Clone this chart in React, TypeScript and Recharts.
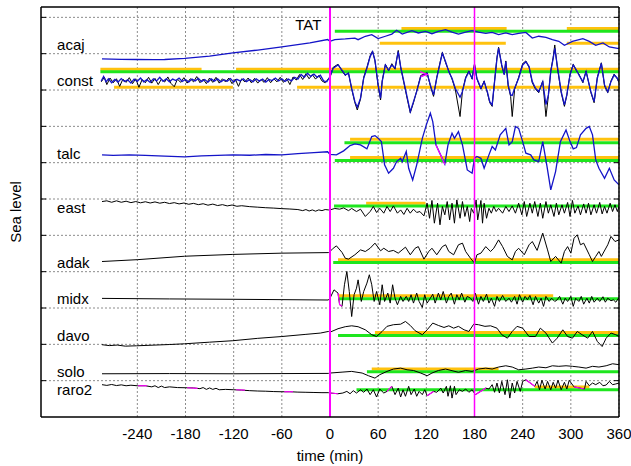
import { LineChart, Line, XAxis, YAxis, CartesianGrid, ReferenceLine, ReferenceDot } from "recharts";

type Series = [number, number][];
type Limit = [number, number, number]; // from (min), to (min), level

const timeTicks = [-240, -180, -120, -60, 0, 60, 120, 180, 240, 300, 360];
const levelTicks = [1, 2, 3, 4, 5, 6, 7, 8, 9, 10, 11, 12, 13, 14, 15, 16, 17, 18, 19, 20, 21, 22];
const stationNames = ["acaj", "const", "talc", "east", "adak", "midx", "davo", "solo", "raro2"];
const stationLevels = [20.5, 18.5, 14.5, 11.5, 8.5, 6.5, 4.5, 2.5, 1.5];
const arrivalMarks = [0, 180];

const acaj: Series = [
  [-284, 19.71], [-260, 19.69], [-241, 19.68], [-220, 19.67], [-206, 19.68], [-181, 19.74], [-150, 19.87],
  [-121, 20.04], [-90, 20.2], [-60, 20.37], [-25, 20.59], [-3, 20.78],
  [0, 20.68], [6, 20.77], [19, 20.81], [31, 20.86], [35, 20.77], [44, 20.96], [52, 21.05], [60, 20.83],
  [69, 20.96], [77, 21.08], [83, 21.29], [90, 21.08], [102, 21.27], [110, 21.14], [119, 21.23], [127, 21.1],
  [135, 21.23], [144, 21.32], [152, 21.19], [160, 21.08], [169, 21.19], [177, 21.27], [185, 21.19],
  [194, 21.12], [202, 21.17], [210, 21.05], [219, 21.14], [227, 21.05], [235, 21.12], [244, 21.17],
  [252, 20.86], [260, 20.96], [269, 20.9], [277, 20.77], [285, 20.68], [292, 20.46], [302, 20.68],
  [315, 20.83], [323, 20.68], [331, 20.46], [340, 20.59], [348, 20.37], [360, 20.28],
];

const constBlack: Series = [
  [-285, 18.45], [-281, 18.7], [-278, 18.3], [-274, 18.66], [-270, 18.4], [-266, 18.62], [-262, 18.2],
  [-258, 18.6], [-254, 18.42], [-250, 18.68], [-246, 18.35], [-242, 18.62], [-238, 18.15], [-234, 18.58],
  [-230, 18.4], [-226, 18.7], [-222, 18.38], [-218, 18.64], [-214, 18.3], [-210, 18.6], [-206, 18.44],
  [-202, 18.72], [-198, 18.36], [-194, 18.18], [-190, 18.6], [-186, 18.42], [-182, 18.68], [-178, 18.38],
  [-174, 18.62], [-170, 18.45], [-166, 18.74], [-162, 18.4], [-158, 18.6], [-154, 18.35], [-150, 18.66],
  [-146, 18.42], [-142, 18.7], [-138, 18.38], [-134, 18.62], [-130, 18.44], [-126, 18.66], [-122, 18.35],
  [-118, 18.6], [-114, 18.2], [-110, 18.62], [-106, 18.44], [-102, 18.66], [-98, 18.4], [-94, 18.64],
  [-90, 18.38], [-86, 18.58], [-82, 18.42], [-78, 18.68], [-74, 18.4], [-70, 18.62], [-66, 18.45],
  [-62, 18.7], [-58, 18.42], [-54, 18.64], [-50, 18.3], [-46, 18.72], [-42, 18.55], [-38, 18.85],
  [-34, 18.58], [-30, 18.9], [-26, 18.62], [-22, 18.85], [-18, 18.6], [-14, 18.8], [-10, 18.5], [-6, 18.4],
  [-2, 18.62],
  [0, 18.7], [4, 19.25], [10, 19.42], [15, 19.05], [19, 18.8], [23, 18.95], [27, 18.05], [31, 17.3],
  [34, 16.9], [38, 17.5], [42, 18.7], [46, 19.25], [50, 19.88], [53, 20.15], [56, 19.6], [60, 18.22],
  [63, 17.45], [65, 18.5], [69, 19.42], [73, 19.05], [77, 19.45], [81, 19.15], [85, 20.18], [88, 19.25],
  [92, 18.4], [96, 17.55], [100, 16.75], [104, 17.3], [108, 17.95], [113, 18.8], [121, 18.95], [125, 18.22],
  [129, 17.65], [133, 18.7], [138, 19.7], [140, 20.08], [144, 19.5], [148, 19.05], [152, 18.6], [156, 18.05],
  [162, 16.54], [165, 17.95], [169, 18.7], [173, 19.05], [177, 18.6], [180, 19.45], [183, 18.6], [188, 18.05],
  [192, 18.5], [196, 17.85], [199, 17.3], [202, 17.1], [205, 18.5], [208, 19.8], [210, 20.35], [214, 19.3],
  [217, 18.88], [219, 19.6], [222, 18.2], [225, 17.65], [227, 16.54], [230, 18.05], [235, 18.7], [240, 19.45],
  [244, 19.6], [248, 19.25], [252, 18.4], [256, 18.05], [260, 17.85], [265, 18.5], [269, 16.54], [272, 17.65],
  [275, 19.05], [278, 19.8], [280, 20.48], [283, 19.3], [288, 17.85], [292, 17.1], [295, 17.7], [299, 18.88],
  [303, 19.42], [307, 19.05], [310, 18.88], [315, 18.4], [319, 19.05], [325, 17.85], [329, 17.3], [333, 18.7],
  [338, 19.5], [342, 18.22], [346, 17.85], [350, 18.5], [354, 18.88], [358, 18.6], [360, 18.4],
];

const constBlue: Series = [
  [-285, 18.5], [-282, 18.75], [-279, 18.45], [-276, 18.62], [-272, 18.4], [-268, 18.58], [-264, 18.44],
  [-260, 18.63], [-256, 18.47], [-252, 18.56], [-248, 18.38], [-244, 18.6], [-240, 18.48], [-236, 18.66],
  [-232, 18.45], [-228, 18.57], [-224, 18.42], [-220, 18.62], [-216, 18.5], [-212, 18.7], [-208, 18.48],
  [-204, 18.62], [-200, 18.45], [-196, 18.6], [-192, 18.52], [-188, 18.66], [-184, 18.47], [-180, 18.58],
  [-176, 18.44], [-172, 18.6], [-168, 18.5], [-164, 18.64], [-160, 18.46], [-156, 18.58], [-152, 18.43],
  [-148, 18.61], [-144, 18.49], [-140, 18.62], [-136, 18.45], [-132, 18.57], [-128, 18.48], [-124, 18.63],
  [-120, 18.44], [-116, 18.59], [-112, 18.5], [-108, 18.62], [-104, 18.46], [-100, 18.58], [-96, 18.45],
  [-92, 18.62], [-88, 18.49], [-84, 18.6], [-80, 18.44], [-76, 18.58], [-72, 18.52], [-68, 18.66],
  [-64, 18.5], [-60, 18.62], [-56, 18.47], [-52, 18.6], [-48, 18.5], [-44, 18.7], [-40, 18.6], [-36, 18.86],
  [-32, 18.7], [-28, 18.92], [-24, 18.75], [-20, 18.88], [-16, 18.7], [-12, 18.82], [-8, 18.5], [-4, 18.45],
  [0, 18.74], [4, 19.2], [10, 19.38], [15, 19.1], [19, 18.83], [23, 18.92], [27, 18.1], [31, 17.36],
  [34, 17.05], [38, 17.55], [42, 18.65], [46, 19.2], [50, 19.84], [53, 20.11], [56, 19.65], [60, 18.28],
  [63, 17.55], [65, 18.46], [69, 19.38], [73, 19.1], [77, 19.38], [81, 19.2], [85, 20.11], [88, 19.29],
  [92, 18.46], [96, 17.64], [100, 16.81], [104, 17.36], [108, 17.91], [113, 18.74], [121, 18.92], [125, 18.28],
  [129, 17.73], [133, 18.65], [138, 19.65], [140, 20.02], [144, 19.56], [148, 19.01], [152, 18.65], [156, 18.1],
  [162, 17.6], [165, 17.91], [169, 18.65], [173, 19.01], [177, 18.65], [180, 19.38], [183, 18.65], [188, 18.1],
  [192, 18.46], [196, 17.91], [199, 17.36], [202, 17.18], [205, 18.46], [208, 19.74], [210, 20.3], [214, 19.38],
  [217, 18.83], [219, 19.56], [222, 18.28], [225, 17.73], [227, 17.7], [230, 18.1], [235, 18.65], [240, 19.38],
  [244, 19.56], [248, 19.29], [252, 18.46], [256, 18.1], [260, 17.91], [265, 18.46], [269, 17.2], [272, 17.73],
  [275, 19.01], [278, 19.74], [280, 20.3], [283, 19.38], [288, 17.91], [292, 17.18], [295, 17.73], [299, 18.83],
  [303, 19.38], [307, 19.1], [310, 18.83], [315, 18.46], [319, 19.01], [325, 17.91], [329, 17.36], [333, 18.65],
  [338, 19.47], [342, 18.28], [346, 17.91], [350, 18.46], [354, 18.83], [358, 18.65], [360, 18.46],
];

const talc: Series = [
  [-284, 14.43], [-270, 14.4], [-250, 14.43], [-230, 14.4], [-206, 14.36], [-181, 14.32], [-160, 14.37],
  [-140, 14.4], [-121, 14.43], [-100, 14.41], [-80, 14.45], [-60, 14.43], [-40, 14.5], [-20, 14.55], [-3, 14.6],
  [0, 14.46], [8, 14.43], [17, 14.65], [25, 14.94], [31, 15.03], [38, 14.98], [46, 14.76], [52, 15.44],
  [56, 15.49], [60, 15.34], [64, 15.16], [68, 13.88], [73, 13.42], [79, 13.69], [83, 14.06], [88, 14.24],
  [90, 14.06], [95, 14.61], [98, 13.69], [103, 13.05], [108, 13.88], [115, 15.34], [120, 16.08], [125, 16.72],
  [128, 16.26], [132, 14.98], [143, 13.92], [147, 14.98], [152, 15.62], [155, 15.34], [160, 15.71],
  [165, 14.98], [171, 13.6], [177, 13.42], [180, 14.24], [183, 14.34], [188, 14.24], [192, 13.69],
  [198, 14.43], [202, 14.89], [206, 14.7], [212, 15.53], [219, 15.89], [223, 14.98], [227, 15.16],
  [231, 15.99], [235, 15.89], [240, 15.16], [244, 14.52], [250, 14.43], [254, 14.15], [260, 14.06],
  [265, 15.16], [270, 13.88], [275, 12.5], [281, 13.51], [287, 15.16], [294, 15.8], [299, 15.16],
  [303, 14.76], [307, 14.83], [312, 15.53], [319, 15.89], [323, 15.99], [327, 15.53], [331, 14.15],
  [335, 13.69], [342, 13.14], [348, 13.69], [354, 13.05], [360, 12.78],
];

const east: Series = [
  [-284, 11.86], [-278, 11.9], [-272, 11.82], [-266, 11.9], [-260, 11.82], [-254, 11.88], [-248, 11.8],
  [-242, 11.86], [-236, 11.79], [-230, 11.85], [-224, 11.78], [-218, 11.84], [-212, 11.77], [-206, 11.82],
  [-200, 11.75], [-194, 11.8], [-188, 11.73], [-182, 11.78], [-176, 11.71], [-170, 11.76], [-164, 11.69],
  [-158, 11.74], [-152, 11.66], [-146, 11.72], [-140, 11.64], [-134, 11.69], [-128, 11.62], [-122, 11.67],
  [-116, 11.6], [-110, 11.63], [-100, 11.58], [-90, 11.55], [-80, 11.52], [-70, 11.5], [-60, 11.47],
  [-50, 11.45], [-40, 11.42], [-34, 11.36], [-30, 11.42], [-26, 11.34], [-22, 11.4], [-18, 11.33],
  [-14, 11.4], [-10, 11.36], [-6, 11.42], [-2, 11.4],
  [0, 11.4], [6, 11.48], [12, 11.44], [17, 11.51], [23, 11.36], [27, 11.48], [33, 11.31], [38, 11.44],
  [44, 11.04], [50, 11.31], [54, 11.59], [58, 11.26], [62, 11.49], [67, 11.22], [71, 11.59], [75, 11.31],
  [79, 11.62], [84, 11.22], [88, 11.4], [92, 11.15], [96, 11.49], [100, 11.22], [104, 11.44], [108, 11.26],
  [112, 11.31], [117, 11.07], [121, 11.77], [124, 10.94], [127, 11.92], [130, 10.67], [134, 11.77],
  [137, 10.58], [140, 11.59], [143, 11.13], [146, 11.86], [149, 10.85], [152, 11.77], [155, 10.67],
  [158, 11.95], [162, 10.94], [165, 11.86], [168, 11.04], [171, 11.59], [174, 10.76], [176, 11.49],
  [179, 11.22], [182, 11.95], [184, 10.85], [188, 11.92], [190, 10.67], [192, 11.77], [195, 10.94],
  [198, 11.49], [201, 11.22], [204, 11.59], [207, 11.31], [210, 11.49], [215, 11.22], [219, 11.59],
  [223, 11.31], [227, 11.62], [231, 11.22], [235, 11.77], [239, 11.13], [242, 11.86], [245, 11.04],
  [249, 11.77], [252, 11.22], [255, 11.86], [259, 11.04], [262, 11.77], [265, 10.94], [269, 11.86],
  [272, 11.22], [275, 11.68], [279, 11.04], [282, 11.77], [285, 11.13], [289, 11.68], [292, 11.22],
  [296, 11.81], [299, 11.04], [302, 11.92], [305, 11.22], [309, 11.62], [312, 11.13], [316, 11.73],
  [319, 11.22], [322, 11.77], [325, 11.13], [329, 11.68], [332, 11.22], [336, 11.81], [339, 11.18],
  [342, 11.59], [345, 11.22], [349, 11.77], [352, 11.31], [355, 11.68], [358, 11.31], [360, 11.59],
];

const adak: Series = [
  [-284, 8.56], [-240, 8.66], [-181, 8.85], [-121, 8.95], [-60, 9.02], [-2, 9.05],
  [0, 9.11], [4, 9.29], [8, 9.42], [15, 9.06], [19, 8.74], [23, 8.69], [31, 8.93], [38, 9.2], [44, 9.11],
  [50, 9.29], [56, 9.57], [63, 9.15], [67, 9.29], [73, 9.11], [79, 9.17], [85, 9.02], [94, 9.35], [100, 8.93],
  [106, 9.29], [110, 9.38], [117, 8.69], [123, 9.11], [127, 9.29], [133, 8.93], [140, 9.38], [144, 9.48],
  [148, 9.11], [154, 8.93], [160, 9.48], [165, 9.57], [169, 9.11], [175, 8.74], [180, 8.47], [183, 8.93],
  [188, 9.02], [194, 9.38], [200, 9.11], [204, 9.29], [210, 9.75], [215, 9.38], [221, 8.84], [227, 8.65],
  [231, 9.11], [235, 9.29], [242, 8.93], [248, 9.48], [252, 9.66], [258, 9.17], [265, 10.12], [271, 9.2],
  [275, 8.56], [281, 8.84], [288, 8.47], [292, 9.11], [296, 9.38], [300, 9.02], [304, 9.84], [308, 10.03],
  [312, 9.48], [316, 9.57], [323, 8.93], [327, 8.56], [331, 8.84], [335, 9.11], [338, 8.84], [346, 9.48],
  [350, 9.94], [355, 9.66], [360, 9.75],
];

const midx: Series = [
  [-284, 6.53], [-200, 6.5], [-120, 6.48], [-60, 6.46], [-2, 6.44],
  [0, 6.54], [5, 7.0], [10, 6.82], [12, 6.18], [15, 6.09], [18, 7.28], [21, 8.01], [24, 6.91], [27, 5.53],
  [30, 6.73], [33, 7.09], [35, 7.55], [39, 6.36], [42, 6.91], [46, 7.37], [49, 7.83], [52, 7.28], [55, 6.36],
  [58, 6.91], [62, 6.18], [65, 7.28], [68, 6.36], [72, 6.82], [75, 6.27], [78, 7.28], [81, 6.54], [84, 6.18],
  [88, 6.64], [91, 6.36], [95, 6.64], [98, 6.36], [101, 6.73], [104, 6.27], [108, 6.82], [111, 6.36],
  [115, 6.03], [118, 6.73], [121, 6.27], [125, 6.54], [128, 6.76], [131, 6.27], [135, 6.82], [138, 6.45],
  [141, 6.91], [145, 6.27], [148, 6.64], [151, 6.82], [155, 6.21], [158, 6.73], [161, 6.45], [164, 6.82],
  [168, 6.32], [171, 6.64], [175, 6.54], [178, 6.36], [181, 6.82], [185, 6.21], [188, 6.64], [191, 6.36],
  [195, 6.76], [198, 6.27], [201, 6.54], [205, 6.09], [208, 6.64], [211, 6.36], [215, 6.69], [219, 6.36],
  [223, 6.54], [226, 6.32], [230, 6.64], [233, 6.21], [236, 6.73], [240, 6.32], [243, 6.64], [246, 6.45],
  [249, 6.69], [253, 6.18], [256, 6.64], [260, 6.27], [263, 6.54], [266, 6.09], [269, 6.64], [273, 6.36],
  [276, 6.54], [280, 6.36], [283, 6.45], [286, 6.64], [290, 6.21], [293, 6.54], [296, 6.36], [300, 6.64],
  [303, 6.09], [306, 6.54], [310, 6.36], [313, 6.64], [316, 6.21], [320, 6.54], [323, 6.27], [326, 6.64],
  [329, 6.32], [333, 6.54], [336, 6.36], [340, 6.62], [343, 6.32], [346, 6.54], [350, 6.4], [353, 6.45],
  [356, 6.32], [360, 6.58],
];

const davo: Series = [
  [-284, 3.98], [-275, 3.93], [-265, 3.96], [-255, 3.9], [-241, 3.92], [-200, 3.99], [-181, 4.03],
  [-150, 4.12], [-121, 4.2], [-90, 4.33], [-60, 4.43], [-30, 4.55], [-12, 4.62], [-2, 4.71],
  [0, 4.67], [10, 4.86], [19, 4.97], [27, 5.02], [35, 4.97], [44, 4.8], [52, 4.53], [58, 4.43], [65, 4.71],
  [71, 4.99], [79, 5.08], [88, 5.11], [94, 5.26], [100, 5.04], [106, 4.75], [115, 4.53], [121, 4.8],
  [128, 5.17], [135, 5.04], [142, 4.93], [148, 5.02], [154, 4.89], [160, 4.99], [167, 4.8], [173, 4.71],
  [179, 5.11], [185, 5.08], [193, 4.99], [200, 5.02], [208, 4.89], [214, 4.53], [221, 4.34], [227, 4.71],
  [233, 4.99], [240, 4.89], [248, 4.43], [256, 4.43], [262, 4.89], [269, 4.62], [277, 4.07], [283, 4.34],
  [290, 4.8], [296, 4.43], [302, 4.34], [308, 4.71], [314, 4.53], [321, 4.34], [327, 4.71], [333, 4.16],
  [339, 3.88], [344, 4.34], [350, 4.62], [356, 4.53], [360, 4.43],
];

const solo: Series = [
  [-284, 2.38], [-200, 2.39], [-120, 2.38], [-60, 2.39], [-2, 2.4],
  [0, 2.42], [15, 2.47], [27, 2.51], [40, 2.42], [48, 2.27], [56, 2.14], [62, 2.33], [71, 2.51], [79, 2.64],
  [88, 2.69], [96, 2.6], [104, 2.56], [113, 2.42], [121, 2.27], [127, 2.42], [135, 2.56], [144, 2.64],
  [152, 2.55], [160, 2.46], [169, 2.56], [177, 2.51], [185, 2.64], [194, 2.69], [202, 2.64], [210, 2.75],
  [219, 2.82], [227, 2.75], [235, 2.6], [244, 2.64], [252, 2.69], [260, 2.75], [269, 2.71], [277, 2.82],
  [285, 2.79], [294, 2.82], [302, 2.79], [310, 2.75], [319, 2.69], [327, 2.79], [335, 2.75], [344, 2.82],
  [352, 2.93], [360, 2.88],
];

const raro2: Series = [
  [-284, 1.78], [-278, 1.74], [-272, 1.79], [-266, 1.73], [-260, 1.77], [-254, 1.72], [-248, 1.75],
  [-240, 1.72], [-230, 1.72], [-222, 1.66], [-218, 1.72], [-214, 1.62], [-210, 1.7], [-206, 1.62],
  [-200, 1.66], [-190, 1.62], [-180, 1.61], [-170, 1.6], [-162, 1.56], [-158, 1.62], [-154, 1.52],
  [-150, 1.6], [-146, 1.52], [-142, 1.58], [-138, 1.5], [-130, 1.52], [-120, 1.5], [-110, 1.48],
  [-100, 1.45], [-90, 1.43], [-80, 1.42], [-70, 1.4], [-60, 1.39], [-50, 1.39], [-40, 1.37], [-30, 1.36],
  [-20, 1.35], [-10, 1.34], [-2, 1.34],
  [0, 1.32], [10, 1.28], [16, 1.32], [21, 1.41], [25, 1.28], [29, 1.45], [33, 1.32], [38, 1.5], [42, 1.36],
  [46, 1.54], [50, 1.23], [54, 1.5], [58, 1.1], [62, 1.54], [67, 1.32], [71, 1.41], [77, 1.69], [81, 1.23],
  [85, 1.59], [88, 1.1], [91, 1.5], [94, 1.14], [98, 1.69], [101, 1.23], [105, 1.54], [108, 1.14],
  [111, 1.41], [115, 1.23], [118, 1.5], [121, 1.17], [129, 1.41], [133, 1.36], [138, 1.59], [141, 1.32],
  [145, 1.69], [147, 1.14], [150, 1.72], [152, 1.04], [155, 1.69], [157, 1.23], [161, 1.5], [165, 1.41],
  [169, 1.54], [173, 1.36], [177, 1.5], [181, 1.23], [194, 1.59], [198, 1.54], [202, 1.78], [205, 1.36],
  [208, 1.87], [211, 1.32], [214, 1.96], [218, 1.23], [221, 2.05], [224, 1.04], [227, 1.87], [230, 1.32],
  [233, 1.96], [237, 1.41], [240, 1.96], [244, 2.05], [255, 1.69], [258, 1.96], [261, 1.5], [264, 2.02],
  [268, 1.54], [271, 1.96], [275, 1.5], [278, 1.91], [281, 1.59], [284, 2.02], [288, 1.5], [292, 1.91],
  [295, 1.54], [298, 2.02], [304, 1.66], [317, 1.54], [319, 1.96], [323, 1.72], [327, 1.87], [331, 1.78],
  [336, 1.91], [340, 1.72], [344, 1.76], [348, 1.96], [352, 1.78], [356, 1.82], [360, 1.87],
];

// interpolated gaps, drawn in magenta
const gapFills: Series[] = [
  [[112, 19.01], [121, 18.86], [113, 18.74]],
  [[132, 14.98], [143, 13.92]],
  [[10, 6.82], [12, 6.18], [15, 6.09]],
  [[-239, 1.72], [-228, 1.72]],
  [[-178, 1.61], [-165, 1.58]],
  [[-117, 1.5], [-106, 1.48]],
  [[-57, 1.39], [-46, 1.39]],
  [[0, 1.32], [10, 1.28]],
  [[71, 1.41], [77, 1.69]],
  [[121, 1.17], [129, 1.41]],
  [[181, 1.23], [194, 1.59]],
  [[244, 2.05], [255, 1.69]],
  [[304, 1.66], [317, 1.54]],
];

const greenLimits: Limit[] = [
  [6, 360, 21.23], [-286, 360, 19.01], [18, 360, 15.1], [6, 360, 14.12], [5, 360, 11.62],
  [4, 360, 8.5], [10, 360, 6.51], [10, 360, 4.49], [46, 360, 2.49], [33, 360, 1.5],
];

const orangeLimits: Limit[] = [
  [89, 220, 21.38], [295, 360, 21.38], [62, 219, 20.57], [295, 360, 20.57],
  [-286, -160, 19.14], [-117, 360, 19.14], [-269, -121, 18.15], [-41, 360, 18.15],
  [25, 360, 15.29], [25, 360, 14.28], [45, 119, 11.77], [10, 360, 8.65], [10, 278, 6.67],
  [56, 360, 4.65], [52, 210, 2.64], [255, 323, 1.65],
];

const blackTraces = [constBlack, east, adak, midx, davo, solo, raro2];
const blueTraces = [acaj, constBlue, talc];

const pts = (s: Series) => s.map(([t, v]) => ({ t, v }));
const seg = ([from, to, v]: Limit) => [{ t: from, v }, { t: to, v }];

const SeaLevelLabel = (props: any) => {
  const vb = props.viewBox || { x: 0, y: 7, height: 410 };
  const cx = vb.x + 15;
  const cy = vb.y + vb.height / 2;
  return (
    <text x={cx} y={cy} transform={`rotate(-90 ${cx} ${cy})`} textAnchor="middle" dominantBaseline="central" fontSize={15} fill="#000">
      Sea level
    </text>
  );
};

const NoTick = () => <g />;

const lineProps = { dataKey: "v", dot: false, activeDot: false, isAnimationActive: false, type: "linear" as const };

export default function App() {
  return (
    <div style={{ position: "absolute", left: 0, top: 0, fontFamily: "'Liberation Sans', Arial, sans-serif" }}>
      <LineChart width={631} height={466} margin={{ top: 7, right: 12, bottom: 0, left: 0 }}>
        <CartesianGrid stroke="#8c8c8c" strokeDasharray="2 2" horizontalValues={levelTicks} verticalValues={timeTicks} />
        <XAxis
          dataKey="t"
          type="number"
          domain={[-360, 360]}
          allowDataOverflow
          ticks={timeTicks}
          height={49}
          tickLine={false}
          tickMargin={5}
          tick={{ fill: "#000", fontSize: 15 }}
          axisLine={{ stroke: "#000", strokeWidth: 1.5 }}
          label={{ value: "time (min)", position: "insideBottom", offset: 5, fill: "#000", fontSize: 15 }}
        />
        <XAxis xAxisId="top" orientation="top" mirror type="number" domain={[-360, 360]} allowDataOverflow ticks={timeTicks} tick={NoTick} tickSize={5} tickLine={{ stroke: "#000" }} axisLine={{ stroke: "#000", strokeWidth: 1.5 }} />
        <YAxis
          type="number"
          domain={[0, 22.57]}
          allowDataOverflow
          ticks={levelTicks}
          width={41}
          tick={NoTick}
          tickLine={false}
          axisLine={{ stroke: "#000", strokeWidth: 1.5 }}
          label={<SeaLevelLabel />}
        />
        <YAxis yAxisId="inL" orientation="left" mirror type="number" domain={[0, 22.57]} allowDataOverflow ticks={levelTicks} tick={NoTick} tickSize={5} tickLine={{ stroke: "#000" }} axisLine={false} />
        <YAxis yAxisId="inR" orientation="right" mirror type="number" domain={[0, 22.57]} allowDataOverflow ticks={levelTicks} tick={NoTick} tickSize={5} tickLine={{ stroke: "#000" }} axisLine={{ stroke: "#000", strokeWidth: 1.5 }} />

        {orangeLimits.map((l, i) => (
          <Line key={`o${i}`} {...lineProps} data={seg(l)} stroke="#ffc20e" strokeWidth={3} />
        ))}
        {greenLimits.map((l, i) => (
          <Line key={`g${i}`} {...lineProps} data={seg(l)} stroke="#1ee61e" strokeWidth={3} />
        ))}
        {blackTraces.map((s, i) => (
          <Line key={`k${i}`} {...lineProps} data={pts(s)} stroke="#000" strokeWidth={1} />
        ))}
        {blueTraces.map((s, i) => (
          <Line key={`b${i}`} {...lineProps} data={pts(s)} stroke="#1414c8" strokeWidth={1.3} />
        ))}
        {gapFills.map((s, i) => (
          <Line key={`m${i}`} {...lineProps} data={pts(s)} stroke="#ff00ff" strokeWidth={1.2} />
        ))}

        {arrivalMarks.map((t, i) => (
          <ReferenceLine key={`a${i}`} x={t} stroke="#ff00ff" strokeWidth={i === 0 ? 2 : 1.5} />
        ))}
        <ReferenceDot x={-27} y={21.58} r={0} fill="none" stroke="none" label={{ value: "TAT", position: "center", fill: "#000", fontSize: 15 }} />
        {stationNames.map((name, i) => (
          <ReferenceDot
            key={name}
            x={-340}
            y={stationLevels[i]}
            r={0}
            fill="none"
            stroke="none"
            label={{ value: name, position: "right", offset: 0, fill: "#000", fontSize: 15 }}
          />
        ))}
      </LineChart>
    </div>
  );
}
